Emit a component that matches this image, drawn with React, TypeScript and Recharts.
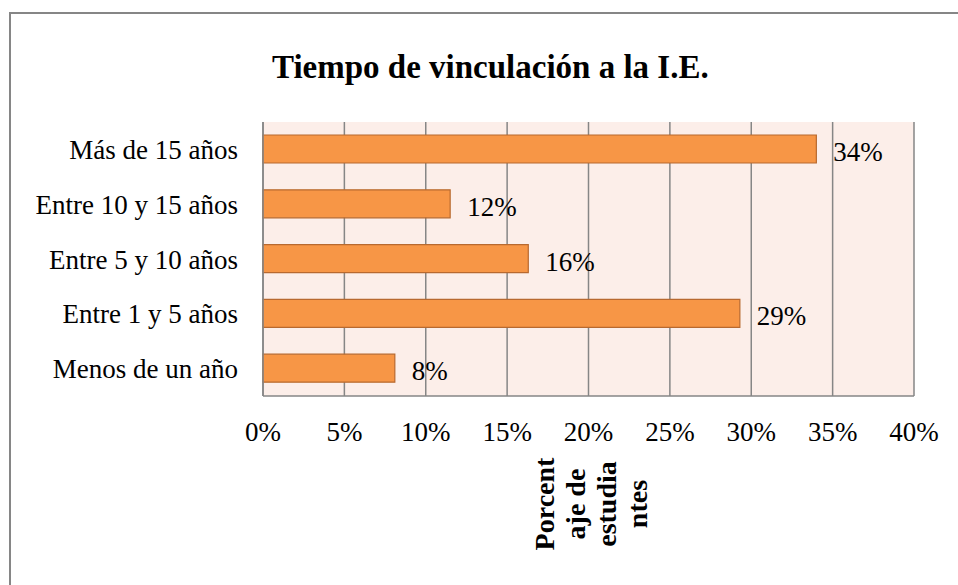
import React from 'react';
import { BarChart, Bar, XAxis, YAxis, CartesianGrid, LabelList } from 'recharts';

// categories top to bottom, as in the picture
const categories = ['Más de 15 años', 'Entre 10 y 15 años', 'Entre 5 y 10 años', 'Entre 1 y 5 años', 'Menos de un año'];
const porcentajes = [34.0, 11.5, 16.3, 29.3, 8.1];
const etiquetas = ['34%', '12%', '16%', '29%', '8%'];
const xTicks = [0, 5, 10, 15, 20, 25, 30, 35, 40];
const axisTitleLines = ['Porcent', 'aje de', 'estudia', 'ntes'];

const FONT = '"Liberation Serif", "Times New Roman", serif';
const GRAY = '#868686';

const data = categories.map((name, i) => ({ name, value: porcentajes[i], label: etiquetas[i] }));

const BarValue = (props: any) => {
  const { x, y, width, height, value } = props;
  return (
    <text x={x + width + 17} y={y + height / 2 + 3} dominantBaseline="central" fontFamily={FONT} fontSize={27} fill="#000">
      {value}
    </text>
  );
};

// rotated, wrapped axis title under the x axis
const AxisTitle = (props: any) => {
  const vb = props.viewBox || { x: 263, y: 396, width: 651 };
  const cx = vb.x + vb.width / 2 + 2;
  const cy = 504;
  return (
    <text transform={`rotate(-90 ${cx} ${cy})`} fontFamily={FONT} fontSize={28} fontWeight="bold" fill="#000" textAnchor="middle">
      {axisTitleLines.map((t, i) => (
        <tspan key={t} x={cx} y={cy - 37 + 31 * i}>
          {t}
        </tspan>
      ))}
    </text>
  );
};

export default function App() {
  return (
    <div style={{ position: 'absolute', left: 0, top: 0, width: 958, height: 585, background: '#fff', overflow: 'hidden' }}>
      <div
        style={{
          position: 'absolute', left: 9, top: 12, right: 0, bottom: 0,
          borderLeft: `2px solid ${GRAY}`, borderTop: `2px solid ${GRAY}`,
        }}
      />
      <BarChart
        width={958}
        height={585}
        data={data}
        layout="vertical"
        margin={{ top: 122, right: 44, bottom: 0, left: 0 }}
        barSize={28}
        style={{ position: 'absolute', left: 0, top: 0 }}
      >
        <CartesianGrid horizontal={false} stroke={GRAY} strokeWidth={1.5} fill="#FCEEE9" fillOpacity={1} />
        <XAxis
          type="number"
          domain={[0, 40]}
          ticks={xTicks}
          tickFormatter={(v) => `${v}%`}
          axisLine={{ stroke: GRAY, strokeWidth: 1.5 }}
          tickLine={false}
          tickSize={0}
          tickMargin={26}
          tick={{ fill: '#000', fontSize: 27, fontFamily: FONT }}
          interval={0}
          height={189}
          label={(p: any) => <AxisTitle {...p} />}
        />
        <YAxis
          type="category"
          dataKey="name"
          width={263}
          axisLine={{ stroke: GRAY, strokeWidth: 1.5 }}
          tickLine={false}
          tickSize={0}
          tickMargin={25}
          tick={{ fill: '#000', fontSize: 27, fontFamily: FONT }}
          interval={0}
        />
        <Bar dataKey="value" fill="#F79646" stroke="#B8692F" strokeWidth={1.2} isAnimationActive={false}>
          <LabelList dataKey="label" content={BarValue} />
        </Bar>
      </BarChart>
      <div
        style={{
          position: 'absolute', left: 272, top: 51, whiteSpace: 'nowrap',
          fontFamily: FONT, fontWeight: 'bold', fontSize: 33, lineHeight: '33px', color: '#000',
        }}
      >
        Tiempo de vinculación a la I.E.
      </div>
    </div>
  );
}
